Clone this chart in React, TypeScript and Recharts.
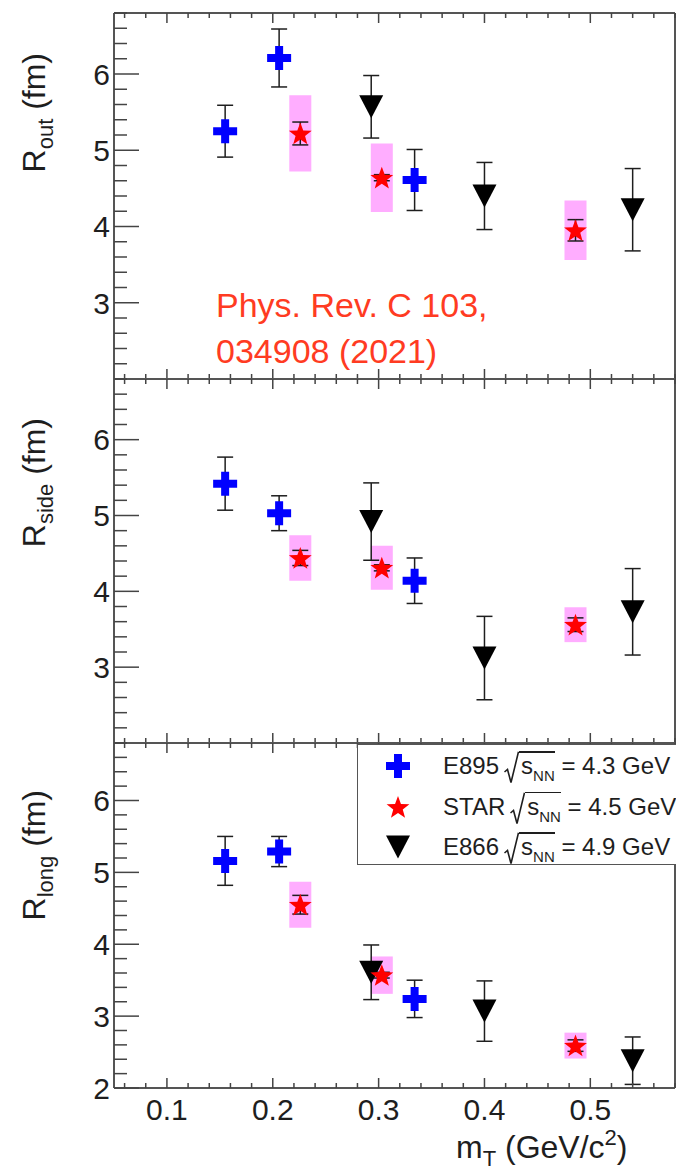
import React from 'react'
import { ScatterChart, Scatter, XAxis, YAxis, ErrorBar, ReferenceArea } from 'recharts'

// m_T of each point (GeV/c^2)
const MT_E895 = [0.155, 0.206, 0.334]
const MT_STAR = [0.226, 0.303, 0.486]
const MT_E866 = [0.293, 0.4, 0.54]

// R_out (fm)
const ROUT_E895 = [5.25, 6.21, 4.61]
const ROUT_E895_ERR = [0.34, 0.38, 0.4]
const ROUT_STAR = [5.22, 4.64, 3.95]
const ROUT_STAR_ERR = [0.15, 0.04, 0.14]
const ROUT_STAR_SYS = [0.5, 0.45, 0.39]
const ROUT_E866 = [5.57, 4.4, 4.22]
const ROUT_E866_ERR = [0.41, 0.44, 0.54]

// R_side (fm)
const RSIDE_E895 = [5.42, 5.03, 4.14]
const RSIDE_E895_ERR = [0.35, 0.23, 0.3]
const RSIDE_STAR = [4.44, 4.31, 3.56]
const RSIDE_STAR_ERR = [0.1, 0.04, 0.09]
const RSIDE_STAR_SYS = [0.3, 0.29, 0.23]
const RSIDE_E866 = [4.92, 3.12, 3.73]
const RSIDE_E866_ERR = [0.51, 0.55, 0.57]

// R_long (fm)
const RLONG_E895 = [5.16, 5.29, 3.24]
const RLONG_E895_ERR = [0.34, 0.21, 0.26]
const RLONG_STAR = [4.55, 3.57, 2.59]
const RLONG_STAR_ERR = [0.13, 0.04, 0.08]
const RLONG_STAR_SYS = [0.32, 0.26, 0.18]
const RLONG_E866 = [3.61, 3.07, 2.38]
const RLONG_E866_ERR = [0.38, 0.42, 0.33]

const X_TICKS = [0.06, 0.08, 0.1, 0.12, 0.14, 0.16, 0.18, 0.2, 0.22, 0.24, 0.26, 0.28, 0.3, 0.32, 0.34, 0.36, 0.38, 0.4, 0.42, 0.44, 0.46, 0.48, 0.5, 0.52, 0.54, 0.56, 0.58]
const X_LABELS = ['0.1', '0.2', '0.3', '0.4', '0.5']
const Y_TICKS = [2, 2.2, 2.4, 2.6, 2.8, 3, 3.2, 3.4, 3.6, 3.8, 4, 4.2, 4.4, 4.6, 4.8, 5, 5.2, 5.4, 5.6, 5.8, 6, 6.2, 6.4, 6.6, 6.8]
const Y_LABELS_UPPER = ['3', '4', '5', '6']
const Y_LABELS_LOWER = ['2', '3', '4', '5', '6']

const LEGEND_NAMES = ['E895', 'STAR', 'E866']
const LEGEND_ENERGIES = ['4.3', '4.5', '4.9']

const FONT = "'Liberation Sans', Arial, Helvetica, sans-serif"
const INK = '#1e1e1e'
const FRAME = '#555'
const TICK = '#444'
const BLUE = '#0000ff'
const RED = '#ff0000'
const SYS_FILL = '#ffadff'
const BOX_HALF = 0.0104

function Cross({ cx, cy }: any) {
  const a = 12
  const t = 4
  return (
    <path
      d={`M${cx - t},${cy - a}H${cx + t}V${cy - t}H${cx + a}V${cy + t}H${cx + t}V${cy + a}H${cx - t}V${cy + t}H${cx - a}V${cy - t}H${cx - t}Z`}
      fill={BLUE}
    />
  )
}

function Star({ cx, cy }: any) {
  const pts: string[] = []
  for (let i = 0; i < 10; i++) {
    const r = i % 2 === 0 ? 12 : 5
    const ang = (-90 + i * 36) * (Math.PI / 180)
    pts.push(`${cx + r * Math.cos(ang)},${cy + r * Math.sin(ang) + 1}`)
  }
  return <polygon points={pts.join(' ')} fill={RED} />
}

function TriDown({ cx, cy }: any) {
  return <polygon points={`${cx - 12},${cy - 11.5} ${cx + 12},${cy - 11.5} ${cx},${cy + 11.5}`} fill="#000" />
}

const isMajorX = (v: number) => Math.abs(v * 10 - Math.round(v * 10)) < 1e-6
const isMajorY = (v: number) => Math.abs(v - Math.round(v)) < 1e-6

function XTick({ x, y, payload, side, labels }: any) {
  const v = payload.value
  const major = isMajorX(v)
  const len = major ? 10 : 5
  const dir = side === 'top' ? 1 : -1
  const txt = v.toFixed(1)
  return (
    <g>
      <line x1={x} x2={x} y1={y} y2={y + dir * len} stroke={TICK} strokeWidth={1.5} />
      {side === 'bottom' && major && labels.includes(txt) && (
        <text x={x} y={y + 32} textAnchor="middle" fontSize={30} fill={INK} fontFamily={FONT}>
          {txt}
        </text>
      )}
    </g>
  )
}

function YTick({ x, y, payload, labels }: any) {
  const v = payload.value
  const major = isMajorY(v)
  const txt = String(Math.round(v))
  return (
    <g>
      <line x1={x} x2={x + (major ? 25 : 13)} y1={y} y2={y} stroke={TICK} strokeWidth={1.5} />
      {major && labels.includes(txt) && (
        <text x={x - 4} y={y} dy="0.36em" textAnchor="end" fontSize={30} fill={INK} fontFamily={FONT}>
          {txt}
        </text>
      )}
    </g>
  )
}

function Panel({ top, height, mTop, mBottom, e895, e895Err, star, starErr, starSys, e866, e866Err, yLabels, xLabels }: any) {
  const e895Data = MT_E895.map((x, i) => ({ x, y: e895[i], err: e895Err[i] }))
  const starData = MT_STAR.map((x, i) => ({ x, y: star[i], err: starErr[i], sys: starSys[i] }))
  const e866Data = MT_E866.map((x, i) => ({ x, y: e866[i], err: e866Err[i] }))
  const axisLine = { stroke: FRAME, strokeWidth: 2 }
  return (
    <div style={{ position: 'absolute', left: 0, top }}>
      <ScatterChart width={676} height={height} margin={{ top: mTop - 1, right: 0, bottom: mBottom - 1, left: 0 }}>
        <XAxis
          xAxisId="b"
          type="number"
          dataKey="x"
          domain={[0.05, 0.58]}
          ticks={X_TICKS}
          interval={0}
          height={1}
          tickSize={0}
          tickMargin={0}
          tickLine={false}
          axisLine={axisLine}
          allowDataOverflow
          tick={(p: any) => <XTick {...p} side="bottom" labels={xLabels} />}
        />
        <XAxis
          xAxisId="t"
          orientation="top"
          type="number"
          dataKey="x"
          domain={[0.05, 0.58]}
          ticks={X_TICKS}
          interval={0}
          height={1}
          tickSize={0}
          tickMargin={0}
          tickLine={false}
          axisLine={axisLine}
          allowDataOverflow
          tick={(p: any) => <XTick {...p} side="top" labels={[]} />}
        />
        <YAxis
          yAxisId="l"
          type="number"
          dataKey="y"
          domain={[2, 6.8]}
          ticks={Y_TICKS}
          interval={0}
          width={114}
          tickSize={0}
          tickMargin={0}
          tickLine={false}
          axisLine={axisLine}
          allowDataOverflow
          tick={(p: any) => <YTick {...p} labels={yLabels} />}
        />
        <YAxis
          yAxisId="r"
          orientation="right"
          type="number"
          dataKey="y"
          domain={[2, 6.8]}
          width={1}
          tick={false}
          tickLine={false}
          axisLine={axisLine}
          allowDataOverflow
        />
        {starData.map((d, i) => (
          <ReferenceArea
            key={i}
            xAxisId="b"
            yAxisId="l"
            x1={d.x - BOX_HALF}
            x2={d.x + BOX_HALF}
            y1={d.y - d.sys}
            y2={d.y + d.sys}
            fill={SYS_FILL}
            fillOpacity={1}
            stroke="none"
          />
        ))}
        <Scatter data={e895Data} xAxisId="b" yAxisId="l" shape={(p: any) => <Cross cx={p.cx} cy={p.cy} />} isAnimationActive={false}>
          <ErrorBar dataKey="err" direction="y" width={8} stroke={INK} strokeWidth={1.5} />
        </Scatter>
        <Scatter data={e866Data} xAxisId="b" yAxisId="l" shape={(p: any) => <TriDown cx={p.cx} cy={p.cy} />} isAnimationActive={false}>
          <ErrorBar dataKey="err" direction="y" width={8} stroke={INK} strokeWidth={1.5} />
        </Scatter>
        <Scatter data={starData} xAxisId="b" yAxisId="l" shape={(p: any) => <Star cx={p.cx} cy={p.cy} />} isAnimationActive={false}>
          <ErrorBar dataKey="err" direction="y" width={8} stroke={INK} strokeWidth={1.5} />
        </Scatter>
      </ScatterChart>
    </div>
  )
}

function LegendRow({ i }: any) {
  const marker = i === 0 ? <Cross cx={15} cy={15} /> : i === 1 ? <Star cx={15} cy={15} /> : <TriDown cx={15} cy={15} />
  return (
    <div style={{ position: 'absolute', left: 0, top: 1 + i * 40.5, height: 40, width: 360 }}>
      <svg width={30} height={30} style={{ position: 'absolute', left: 25, top: 5 }}>
        {marker}
      </svg>
      <div style={{ position: 'absolute', left: 85, top: 0, height: 40, display: 'flex', alignItems: 'flex-start', whiteSpace: 'nowrap', fontSize: 24, lineHeight: '40px', color: INK }}>
        <span>{LEGEND_NAMES[i]}</span>
        <svg width={15} height={32} style={{ marginTop: 5, marginLeft: 5, flex: 'none' }}>
          <path d="M0.5,21 L3.5,18.5 L7,31.5 L14.5,0.8" fill="none" stroke={INK} strokeWidth={1.6} />
        </svg>
        <span style={{ position: 'relative', display: 'inline-block', marginLeft: 2 }}>
          <span style={{ position: 'absolute', left: -2, right: 0, top: 5, height: 1.5, background: INK }} />
          s<span style={{ fontSize: 15, position: 'relative', top: 7 }}>NN</span>
        </span>
        <span style={{ whiteSpace: 'pre' }}>{` = ${LEGEND_ENERGIES[i]} GeV`}</span>
      </div>
    </div>
  )
}

function YTitle({ x, yEnd, sub }: any) {
  return (
    <text transform={`translate(${x},${yEnd}) rotate(-90)`} textAnchor="end" fontSize={32} fill={INK} fontFamily={FONT}>
      R<tspan fontSize={22} dy={8}>{sub}</tspan>
      <tspan dy={-8}> (fm)</tspan>
    </text>
  )
}

export default function App() {
  return (
    <div style={{ position: 'absolute', left: 0, top: 0, width: 676, height: 1172, overflow: 'hidden', background: '#fff', fontFamily: FONT }}>
      <Panel top={0} height={381} mTop={13} mBottom={2} e895={ROUT_E895} e895Err={ROUT_E895_ERR} star={ROUT_STAR} starErr={ROUT_STAR_ERR} starSys={ROUT_STAR_SYS} e866={ROUT_E866} e866Err={ROUT_E866_ERR} yLabels={Y_LABELS_UPPER} xLabels={[]} />
      <Panel top={369} height={376} mTop={10} mBottom={2} e895={RSIDE_E895} e895Err={RSIDE_E895_ERR} star={RSIDE_STAR} starErr={RSIDE_STAR_ERR} starSys={RSIDE_STAR_SYS} e866={RSIDE_E866} e866Err={RSIDE_E866_ERR} yLabels={Y_LABELS_UPPER} xLabels={[]} />
      <Panel top={733} height={439} mTop={10} mBottom={84} e895={RLONG_E895} e895Err={RLONG_E895_ERR} star={RLONG_STAR} starErr={RLONG_STAR_ERR} starSys={RLONG_STAR_SYS} e866={RLONG_E866} e866Err={RLONG_E866_ERR} yLabels={Y_LABELS_LOWER} xLabels={X_LABELS} />

      <svg width={676} height={1172} style={{ position: 'absolute', left: 0, top: 0, pointerEvents: 'none' }}>
        <YTitle x={45} yEnd={53} sub="out" />
        <YTitle x={45} yEnd={418} sub="side" />
        <YTitle x={45} yEnd={790} sub="long" />
        <text fontSize={34} fill="#ff3b22" fontFamily={FONT}>
          <tspan x={216} y={317}>Phys. Rev. C 103,</tspan>
          <tspan x={216} y={363}>034908 (2021)</tspan>
        </text>
        <text x={456} y={1158} fontSize={32} fill={INK} fontFamily={FONT}>
          m<tspan fontSize={22} dy={8}>T</tspan>
          <tspan dy={-8}> (GeV/c</tspan>
          <tspan fontSize={22} dy={-13}>2</tspan>
          <tspan dy={13}>)</tspan>
        </text>
      </svg>

      <div style={{ position: 'absolute', left: 357, top: 744, width: 360, height: 121, border: `1.5px solid ${FRAME}`, background: '#fff', boxSizing: 'border-box' }}>
        {LEGEND_NAMES.map((_, i) => (
          <LegendRow key={i} i={i} />
        ))}
      </div>
    </div>
  )
}
